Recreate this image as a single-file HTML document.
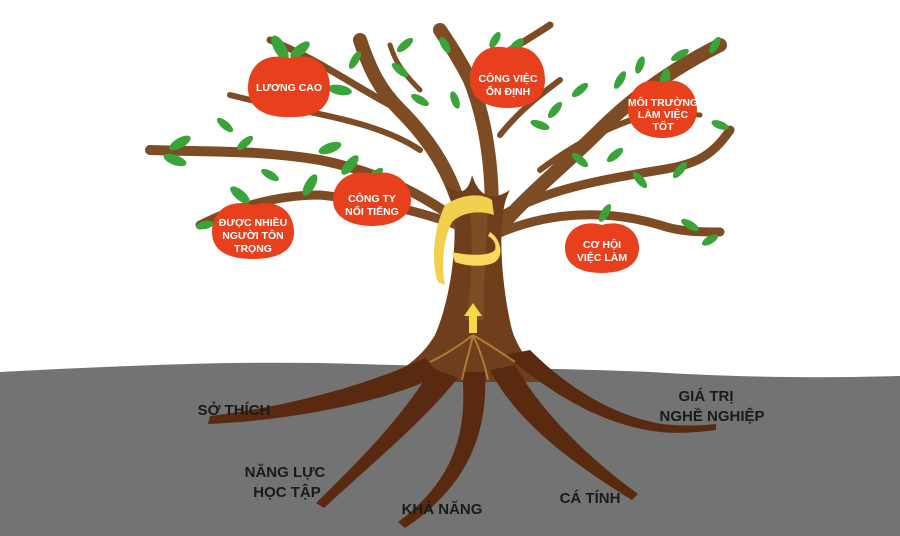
<!DOCTYPE html>
<html><head><meta charset="utf-8"><style>
html,body{margin:0;padding:0;background:#fff;}
svg{display:block;}
text{font-family:"Liberation Sans","DejaVu Sans",sans-serif;}
</style></head><body>
<svg width="900" height="536" viewBox="0 0 900 536" xmlns="http://www.w3.org/2000/svg">
<rect width="900" height="536" fill="#fff"/>
<path d="M0 372 C120 366 240 360 360 364 C480 368 560 368 650 372 C750 378 820 378 900 376 L900 536 L0 536 Z" fill="#737373"/>
<g stroke="#7d4b24" fill="none" stroke-linecap="round">
<path d="M470 250 C460 190 440 150 400 110 C380 90 370 70 360 40" stroke-width="14"/>
<path d="M490 250 C495 190 490 130 470 80 C460 60 450 45 440 30" stroke-width="14"/>
<path d="M490 240 C520 200 560 170 600 130 C630 100 670 70 720 45" stroke-width="14"/>
<path d="M470 230 C420 190 370 170 320 160 C260 150 210 152 150 150" stroke-width="10"/>
<path d="M470 230 C420 210 370 200 320 195 C280 195 240 205 200 225" stroke-width="9"/>
<path d="M495 220 C540 190 600 180 660 170 C690 165 710 160 730 130" stroke-width="9"/>
<path d="M495 235 C550 210 610 210 660 225 C680 232 700 232 720 232" stroke-width="9"/>
<path d="M400 110 C360 90 320 60 270 40" stroke-width="7"/>
<path d="M420 150 C390 130 350 120 300 110 C270 105 250 100 230 95" stroke-width="6"/>
<path d="M470 80 C490 60 520 45 550 25" stroke-width="7"/>
<path d="M540 170 C580 140 620 120 680 105" stroke-width="6"/>
<path d="M600 130 C630 120 660 112 700 115" stroke-width="5"/>
<path d="M420 90 C400 70 395 60 390 45" stroke-width="5"/>
<path d="M500 135 C520 110 540 95 560 80" stroke-width="6"/>
</g>
<path d="M445 185 C462 205 455 290 435 335 C420 360 400 372 375 382 L560 382 C535 370 520 355 512 330 C502 290 495 215 510 190 C495 200 480 200 472 175 C468 195 458 195 445 185 Z" fill="#6f3e1c"/>
<path d="M470 210 C474 250 470 300 466 320 L484 320 C483 290 486 250 488 210Z" fill="#7d4b24"/>
<g fill="#5a2a10">
<path d="M425 358 C380 380 300 405 210 416 L208 424 C300 420 390 400 440 375 Z"/>
<path d="M432 368 C400 420 360 460 316 503 L324 508 C370 465 420 425 458 378 Z"/>
<path d="M462 372 C468 430 455 480 398 522 L405 528 C470 485 488 430 485 372 Z"/>
<path d="M490 370 C515 420 570 462 632 500 L638 494 C585 455 540 410 515 365 Z"/>
<path d="M505 355 C550 392 600 425 660 432 C680 434 700 432 716 430 L716 424 C700 426 680 426 662 424 C610 415 565 385 530 350 Z"/>
</g>
<g stroke="#c58a3a" stroke-width="2" fill="none" opacity="0.8">
<path d="M473 335 C460 345 445 355 430 362"/>
<path d="M473 335 C470 350 465 365 462 380"/>
<path d="M473 335 C480 350 485 365 488 380"/>
<path d="M473 335 C490 345 505 355 515 362"/>
</g>
<path d="M473 303 L482 316 L477 316 L477 333 L469 333 L469 316 L464 316 Z" fill="#f6d84a"/>
<path d="M445 205 C460 195 480 192 492 200 L494 215 C480 210 462 212 452 222 C445 235 440 262 445 285 L438 282 C430 260 435 225 445 205 Z" fill="#f2cf4c"/>
<path d="M490 232 C500 238 505 255 495 262 C485 268 465 266 455 262 L452 252 C470 256 490 256 495 250 C497 243 492 238 488 236 Z" fill="#f6d95e"/>
<g fill="#3aa33a">
<ellipse cx="180" cy="143" rx="12" ry="5" transform="rotate(-30 180 143)"/>
<ellipse cx="175" cy="160" rx="12" ry="5" transform="rotate(20 175 160)"/>
<ellipse cx="225" cy="125" rx="10" ry="4" transform="rotate(40 225 125)"/>
<ellipse cx="245" cy="143" rx="10" ry="4" transform="rotate(-40 245 143)"/>
<ellipse cx="270" cy="175" rx="10" ry="4" transform="rotate(30 270 175)"/>
<ellipse cx="330" cy="148" rx="12" ry="5" transform="rotate(-20 330 148)"/>
<ellipse cx="350" cy="165" rx="12" ry="5" transform="rotate(-50 350 165)"/>
<ellipse cx="310" cy="185" rx="12" ry="5" transform="rotate(-60 310 185)"/>
<ellipse cx="340" cy="90" rx="12" ry="5" transform="rotate(10 340 90)"/>
<ellipse cx="355" cy="60" rx="10" ry="4" transform="rotate(-60 355 60)"/>
<ellipse cx="400" cy="70" rx="10" ry="4" transform="rotate(40 400 70)"/>
<ellipse cx="420" cy="100" rx="10" ry="4" transform="rotate(30 420 100)"/>
<ellipse cx="405" cy="45" rx="10" ry="4" transform="rotate(-40 405 45)"/>
<ellipse cx="445" cy="45" rx="9" ry="4" transform="rotate(60 445 45)"/>
<ellipse cx="455" cy="100" rx="9" ry="4" transform="rotate(70 455 100)"/>
<ellipse cx="495" cy="40" rx="9" ry="4" transform="rotate(-60 495 40)"/>
<ellipse cx="555" cy="110" rx="10" ry="4" transform="rotate(-50 555 110)"/>
<ellipse cx="540" cy="125" rx="10" ry="4" transform="rotate(20 540 125)"/>
<ellipse cx="580" cy="90" rx="10" ry="4" transform="rotate(-40 580 90)"/>
<ellipse cx="620" cy="80" rx="10" ry="4" transform="rotate(-60 620 80)"/>
<ellipse cx="640" cy="65" rx="9" ry="4" transform="rotate(-70 640 65)"/>
<ellipse cx="680" cy="55" rx="10" ry="4" transform="rotate(-30 680 55)"/>
<ellipse cx="715" cy="45" rx="9" ry="4" transform="rotate(-60 715 45)"/>
<ellipse cx="665" cy="80" rx="12" ry="5" transform="rotate(-80 665 80)"/>
<ellipse cx="720" cy="125" rx="9" ry="4" transform="rotate(20 720 125)"/>
<ellipse cx="580" cy="160" rx="10" ry="4" transform="rotate(40 580 160)"/>
<ellipse cx="615" cy="155" rx="10" ry="4" transform="rotate(-40 615 155)"/>
<ellipse cx="640" cy="180" rx="10" ry="4" transform="rotate(50 640 180)"/>
<ellipse cx="680" cy="170" rx="10" ry="4" transform="rotate(-50 680 170)"/>
<ellipse cx="690" cy="225" rx="10" ry="4" transform="rotate(30 690 225)"/>
<ellipse cx="710" cy="240" rx="9" ry="4" transform="rotate(-30 710 240)"/>
<ellipse cx="605" cy="213" rx="10" ry="4" transform="rotate(-60 605 213)"/>
<ellipse cx="240" cy="195" rx="12" ry="5" transform="rotate(40 240 195)"/>
<ellipse cx="205" cy="225" rx="9" ry="4" transform="rotate(-10 205 225)"/>
<ellipse cx="280" cy="48" rx="14" ry="6" transform="rotate(60 280 48)"/>
<ellipse cx="300" cy="50" rx="12" ry="5" transform="rotate(-40 300 50)"/>
<ellipse cx="515" cy="48" rx="12" ry="5" transform="rotate(-50 515 48)"/>
<ellipse cx="375" cy="175" rx="10" ry="4" transform="rotate(-40 375 175)"/>
</g>
<g fill="#e8401c">
<path d="M290 58 C265 52 248 65 248 88 C248 110 268 118 290 117 C312 118 330 110 330 88 C330 65 315 52 290 58Z"/>
<path d="M508 48 C485 42 470 58 470 80 C470 100 488 108 508 108 C528 108 545 100 545 80 C545 58 530 42 508 48Z"/>
<path d="M662 82 C642 76 628 90 628 110 C628 130 645 138 662 138 C680 138 697 130 697 110 C697 90 682 76 662 82Z"/>
<path d="M372 174 C352 168 333 180 333 200 C333 218 352 226 372 226 C392 226 411 218 411 200 C411 180 392 168 372 174Z"/>
<path d="M253 205 C228 198 212 212 212 232 C212 252 230 259 253 259 C276 259 294 252 294 232 C294 212 278 198 253 205Z"/>
<path d="M602 225 C582 219 565 230 565 248 C565 266 582 273 602 273 C622 273 639 266 639 248 C639 230 622 219 602 225Z"/>
</g>
<g fill="#fff" font-size="10.5" font-weight="bold" text-anchor="middle">
<text x="289" y="91">LƯƠNG CAO</text>
<text x="508" y="82">CÔNG VIỆC</text><text x="508" y="95">ỔN ĐỊNH</text>
<text x="663" y="106">MÔI TRƯỜNG</text><text x="663" y="118">LÀM VIỆC</text><text x="663" y="130">TỐT</text>
<text x="372" y="202">CÔNG TY</text><text x="372" y="215">NỔI TIẾNG</text>
<text x="253" y="226">ĐƯỢC NHIỀU</text><text x="253" y="239">NGƯỜI TÔN</text><text x="253" y="252">TRỌNG</text>
<text x="602" y="248">CƠ HỘI</text><text x="602" y="261">VIỆC LÀM</text>
</g>
<g fill="#1a1a1a" font-size="15" font-weight="bold" text-anchor="middle">
<text x="234" y="415">SỞ THÍCH</text>
<text x="706" y="401">GIÁ TRỊ</text><text x="712" y="421">NGHỀ NGHIỆP</text>
<text x="285" y="477">NĂNG LỰC</text><text x="287" y="497">HỌC TẬP</text>
<text x="442" y="514">KHẢ NĂNG</text>
<text x="590" y="503">CÁ TÍNH</text>
</g>
</svg>
</body></html>
